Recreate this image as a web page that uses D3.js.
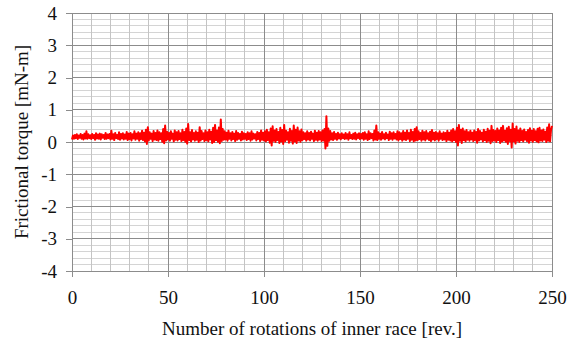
<!DOCTYPE html>
<html>
<head>
<meta charset="utf-8">
<script src="https://cdn.jsdelivr.net/npm/d3@7"></script>
<style>
  body { margin: 0; background: #fff; }
  text { font-family: "Liberation Serif", "Times New Roman", serif; fill: #111; }
</style>
</head>
<body>
<div id="container"></div>
<script>
// tick values
const xTicks = [0, 50, 100, 150, 200, 250];
const yTicks = [-4, -3, -2, -1, 0, 1, 2, 3, 4];

// torque samples, one every half revolution, from rev 0 to rev 250
const revStep = 0.5;
const torque = [
    0.08,0.2,0.1,0.22,0.12,0.24,0.09,0.2,0.13,0.25,0.1,0.22,0.08,0.26,0.11,0.33,0.1,0.24,0.12,0.21,
    0.09,0.25,0.12,0.22,0.07,0.27,0.11,0.23,0.1,0.26,0.08,0.24,0.13,0.22,0.09,0.28,0.1,0.23,0.12,0.25,
    0.08,0.35,0.1,0.24,0.06,0.28,0.12,0.22,0.09,0.3,0.07,0.25,0.11,0.27,0.08,0.23,0.1,0.31,0.06,0.26,
    0.09,0.28,0.05,0.24,0.11,0.33,0.07,0.26,0.1,0.3,0.04,0.27,0.09,0.35,0.06,0.29,0.02,0.38,-0.06,0.46,
    0.05,0.3,0.1,0.26,0.03,0.34,0.08,0.28,0.06,0.36,0.04,0.3,0.09,0.27,0.01,0.4,-0.04,0.51,0.05,0.32,
    0.08,0.28,0.04,0.33,0.1,0.26,0.02,0.36,0.07,0.3,0.05,0.34,0.09,0.27,0.03,0.38,0.06,0.31,0.01,0.42,
    -0.05,0.56,0.06,0.3,0.02,0.37,0.08,0.28,0.04,0.33,0.07,0.29,0.0,0.46,0.05,0.34,0.09,0.27,0.03,0.36,
    0.06,0.3,0.02,0.38,0.08,0.32,-0.03,0.44,0.0,0.53,0.06,0.36,0.01,0.45,-0.04,0.7,0.03,0.4,0.07,0.33,
    0.08,0.29,0.04,0.35,0.1,0.27,0.05,0.31,0.09,0.26,0.03,0.34,0.07,0.28,0.1,0.25,0.05,0.32,0.08,0.27,
    0.1,0.25,0.06,0.3,0.09,0.27,0.04,0.33,0.08,0.26,0.11,0.24,0.05,0.31,0.09,0.28,0.03,0.36,0.07,0.29,
    0.05,0.33,0.02,0.38,0.06,0.3,-0.02,0.42,-0.11,0.49,0.04,0.36,0.0,0.4,0.06,0.31,-0.03,0.44,0.02,0.37,
    -0.06,0.53,0.03,0.35,0.07,0.3,-0.02,0.41,0.04,0.34,-0.05,0.51,0.02,0.38,-0.03,0.45,0.05,0.33,0.01,0.39,
    0.06,0.3,0.09,0.27,0.04,0.33,0.08,0.28,0.05,0.32,0.1,0.26,0.03,0.35,0.07,0.29,0.04,0.34,0.08,0.3,
    0.03,0.36,0.05,0.4,-0.2,0.8,-0.12,0.42,0.04,0.34,0.08,0.27,0.06,0.31,0.1,0.25,0.07,0.29,0.11,0.24,
    0.08,0.27,0.12,0.23,0.09,0.28,0.11,0.24,0.07,0.3,0.12,0.22,0.09,0.26,0.1,0.29,0.08,0.24,0.12,0.27,
    0.09,0.25,0.11,0.28,0.07,0.3,0.1,0.24,0.06,0.33,0.09,0.27,0.12,0.25,0.05,0.36,0.08,0.51,0.06,0.3,
    0.1,0.26,0.07,0.31,0.11,0.24,0.08,0.29,0.12,0.23,0.06,0.32,0.1,0.27,0.07,0.3,0.11,0.25,0.08,0.33,
    0.05,0.3,0.09,0.27,0.04,0.34,0.08,0.29,0.06,0.36,0.1,0.28,0.03,0.38,0.07,0.31,0.02,0.4,0.05,0.46,
    0.06,0.33,0.09,0.28,0.04,0.35,0.08,0.3,0.05,0.34,0.1,0.27,0.06,0.32,0.03,0.37,0.08,0.29,0.05,0.31,
    0.09,0.27,0.04,0.33,0.1,0.26,0.06,0.3,0.08,0.28,0.03,0.35,0.07,0.29,0.05,0.36,0.02,0.4,0.06,0.33,
    0.0,0.44,-0.11,0.53,0.04,0.38,-0.03,0.42,0.06,0.33,0.02,0.37,0.07,0.3,0.04,0.35,0.08,0.29,0.03,0.36,
    0.06,0.31,-0.02,0.4,0.05,0.34,0.08,0.29,0.02,0.38,0.06,0.32,0.0,0.41,0.04,0.35,-0.04,0.5,0.03,0.37,
    0.05,0.34,0.0,0.42,0.06,0.36,-0.03,0.44,0.02,0.5,0.05,0.35,0.01,0.43,-0.06,0.47,0.03,0.38,-0.17,0.57,
    0.02,0.4,-0.05,0.48,0.04,0.36,0.0,0.42,0.06,0.34,0.02,0.39,0.07,0.31,0.03,0.37,-0.02,0.43,0.05,0.35,
    0.01,0.4,0.06,0.33,0.02,0.41,-0.01,0.44,0.05,0.36,0.03,0.39,0.07,0.32,0.0,0.45,0.04,0.55,0.02,0.38,
    0.5
];

const width = 575;
const height = 349;
const margin = {left: 72, right: 23, top: 13, bottom: 78};
const fontSize = '19px';
const serif = '"Liberation Serif", "Times New Roman", serif';

const x = d3.scaleLinear().domain([0, 250]).range([margin.left, width - margin.right]);
const y = d3.scaleLinear().domain([-4, 4]).range([height - margin.bottom, margin.top]);

const svg = d3.select('#container').append('svg')
    .attr('width', width)
    .attr('height', height);

// minor grid
const grid = svg.append('g').attr('shape-rendering', 'crispEdges');
grid.selectAll('.hminor').data(d3.range(-40, 41, 2).map((d) => d / 10)).enter().append('line')
    .attr('x1', x(0)).attr('x2', x(250))
    .attr('y1', (d) => y(d)).attr('y2', (d) => y(d))
    .style('stroke', '#d4d4d4');
grid.selectAll('.vminor').data(d3.range(0, 251, 10)).enter().append('line')
    .attr('x1', (d) => x(d)).attr('x2', (d) => x(d))
    .attr('y1', y(4)).attr('y2', y(-4))
    .style('stroke', '#c4c4c4');

// major grid
grid.selectAll('.hmajor').data(yTicks).enter().append('line')
    .attr('x1', x(0)).attr('x2', x(250))
    .attr('y1', (d) => y(d)).attr('y2', (d) => y(d))
    .style('stroke', '#8c8c8c');
grid.selectAll('.vmajor').data(xTicks).enter().append('line')
    .attr('x1', (d) => x(d)).attr('x2', (d) => x(d))
    .attr('y1', y(4)).attr('y2', y(-4))
    .style('stroke', '#8c8c8c');

// axes (plain hyphen for negatives, like the original)
const yAxis = svg.append('g')
    .attr('transform', `translate(${x(0)} 0)`)
    .call(d3.axisLeft(y).tickValues(yTicks).tickSize(6).tickPadding(9).tickFormat((d) => String(d)));
const xAxis = svg.append('g')
    .attr('transform', `translate(0 ${y(-4)})`)
    .call(d3.axisBottom(x).tickValues(xTicks).tickSize(6).tickPadding(14).tickFormat((d) => String(d)));

[yAxis, xAxis].forEach((a) => {
    a.attr('font-family', serif).attr('font-size', fontSize);
    a.select('.domain').style('stroke', '#8c8c8c').attr('shape-rendering', 'crispEdges');
    a.selectAll('.tick line').style('stroke', '#8c8c8c').attr('shape-rendering', 'crispEdges');
    a.selectAll('text').style('font-size', fontSize).style('font-family', serif).style('fill', '#111');
});

// series
const line = d3.line()
    .x((d, i) => x(i * revStep))
    .y((d) => y(d));

svg.append('path')
    .datum(torque)
    .attr('d', line)
    .style('fill', 'none')
    .style('stroke', '#ff0000')
    .style('stroke-width', 2)
    .style('stroke-linejoin', 'round');

// titles
svg.append('text')
    .attr('x', (x(0) + x(250)) / 2)
    .attr('y', 335)
    .attr('text-anchor', 'middle')
    .style('font-size', fontSize)
    .text('Number of rotations of inner race [rev.]');

svg.append('text')
    .attr('transform', `translate(28 ${(y(4) + y(-4)) / 2}) rotate(-90)`)
    .attr('text-anchor', 'middle')
    .style('font-size', fontSize)
    .text('Frictional torque [mN-m]');
</script>
</body>
</html>
